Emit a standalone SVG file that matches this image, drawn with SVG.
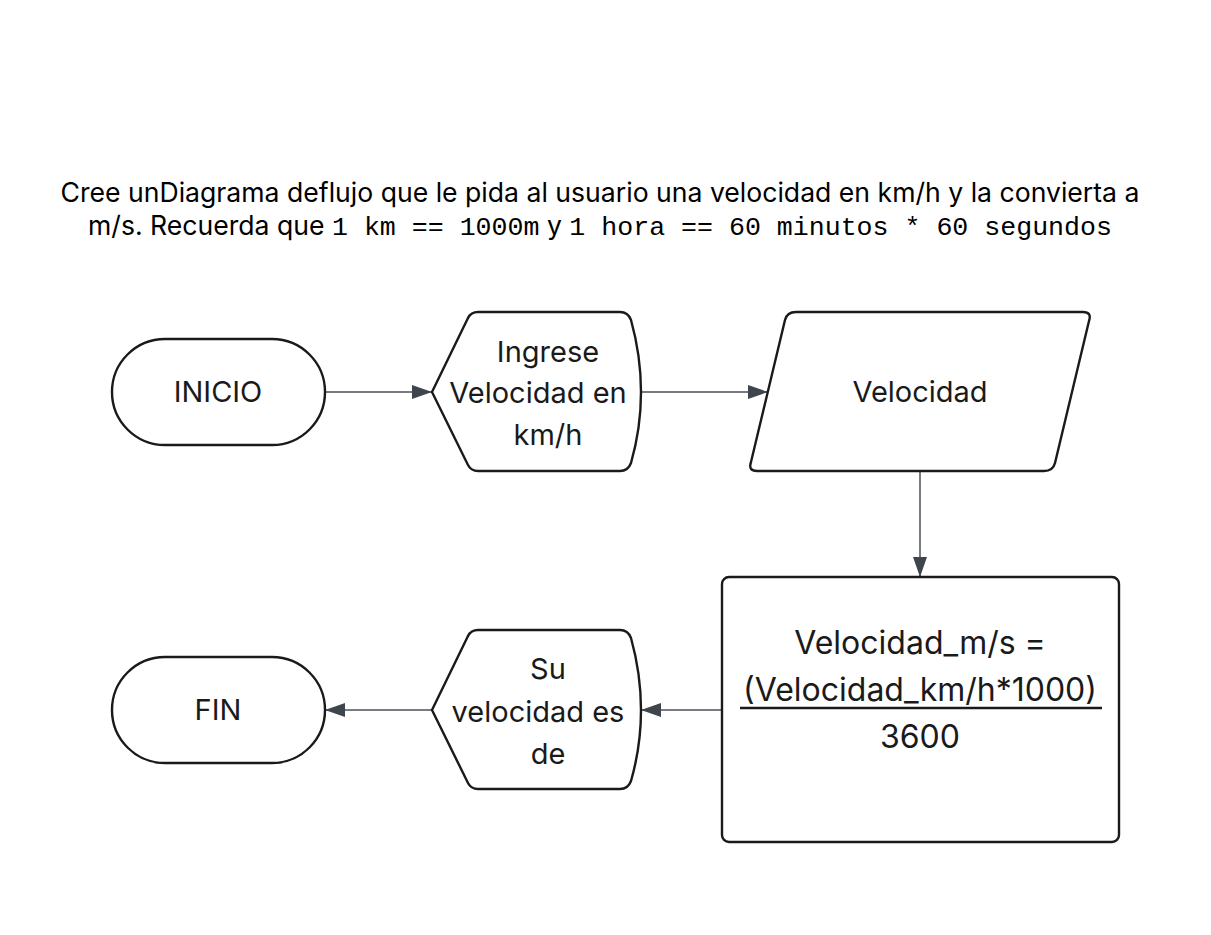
<svg xmlns="http://www.w3.org/2000/svg" width="1211" height="935" viewBox="0 0 1211 935">
<style>
.shape{fill:#fff;stroke:#1a1a1a;stroke-width:2.4;stroke-linejoin:round}
.lbl{font-family:Inter,"Liberation Sans",sans-serif;font-size:29px;fill:#1a1a1a;text-anchor:middle}
.big{font-size:32px}
.title{font-family:Inter,"Liberation Sans",sans-serif;font-size:26.6px;fill:#000}
.mono{font-family:"Liberation Mono","DejaVu Sans Mono",monospace}
.conn{fill:none;stroke:#4a5058;stroke-width:1.5}
</style>
<defs>
<marker id="arr" viewBox="0 0 20 14" refX="20" refY="7" markerWidth="20" markerHeight="14" markerUnits="userSpaceOnUse" orient="auto">
<path d="M0,0 L20,7 L0,14 Z" fill="#3f454d"/>
</marker>
</defs>
<rect width="1211" height="935" fill="#fff"/>
<g id="title">
<text class="title" x="600" y="202" text-anchor="middle">Cree unDiagrama deflujo que le pida al usuario una velocidad en km/h y la convierta a</text>
<text class="title" x="600" y="235" text-anchor="middle">m/s. Recuerda que <tspan class="mono">1 km == 1000m</tspan> y <tspan class="mono">1 hora == 60 minutos * 60 segundos</tspan></text>
</g>
<g id="connectors">
<path class="conn" d="M325,392 H432" marker-end="url(#arr)"/>
<path class="conn" d="M641,392 H768" marker-end="url(#arr)"/>
<path class="conn" d="M920,471 V577" marker-end="url(#arr)"/>
<path class="conn" d="M722,710 H641" marker-end="url(#arr)"/>
<path class="conn" d="M432,710 H325" marker-end="url(#arr)"/>
</g>
<g id="inicio">
<rect class="shape" x="112" y="339" width="213" height="106" rx="53" ry="53"/>
<text class="lbl" x="218" y="402">INICIO</text>
</g>
<g id="ingrese">
<path class="shape" d="M432,392 L468,318 Q471,312 478,312 L620,312 Q628,312 631,320 Q641,356 641,392 Q641,428 631,463 Q628,471 620,471 L478,471 Q471,471 468,465 Z"/>
<text class="lbl" x="548" y="362">Ingrese</text>
<text class="lbl" x="538" y="403">Velocidad en</text>
<text class="lbl" x="548" y="445">km/h</text>
</g>
<g id="velocidad">
<path class="shape" d="M796,312 L1083,312 Q1092,312 1089,321 L1055,463 Q1053,471 1044,471 L757,471 Q748,471 751,462 L785,320 Q787,312 796,312 Z"/>
<text class="lbl" x="920" y="402">Velocidad</text>
</g>
<g id="calculo">
<rect class="shape" x="722" y="577" width="397" height="265" rx="7" ry="7"/>
<text class="lbl big" x="920" y="654">Velocidad_m/s =</text>
<text class="lbl big" x="920" y="701">(Velocidad_km/h*1000)</text>
<line x1="740" y1="708" x2="1102" y2="708" stroke="#1a1a1a" stroke-width="2.5"/>
<text class="lbl big" x="920" y="748">3600</text>
</g>
<g id="resultado">
<path class="shape" d="M432,710 L468,636 Q471,630 478,630 L620,630 Q628,630 631,638 Q641,674 641,710 Q641,746 631,781 Q628,789 620,789 L478,789 Q471,789 468,783 Z"/>
<text class="lbl" x="548" y="679">Su</text>
<text class="lbl" x="538" y="722">velocidad es</text>
<text class="lbl" x="548" y="764">de</text>
</g>
<g id="fin">
<rect class="shape" x="112" y="657" width="213" height="106" rx="53" ry="53"/>
<text class="lbl" x="218" y="720">FIN</text>
</g>
</svg>
